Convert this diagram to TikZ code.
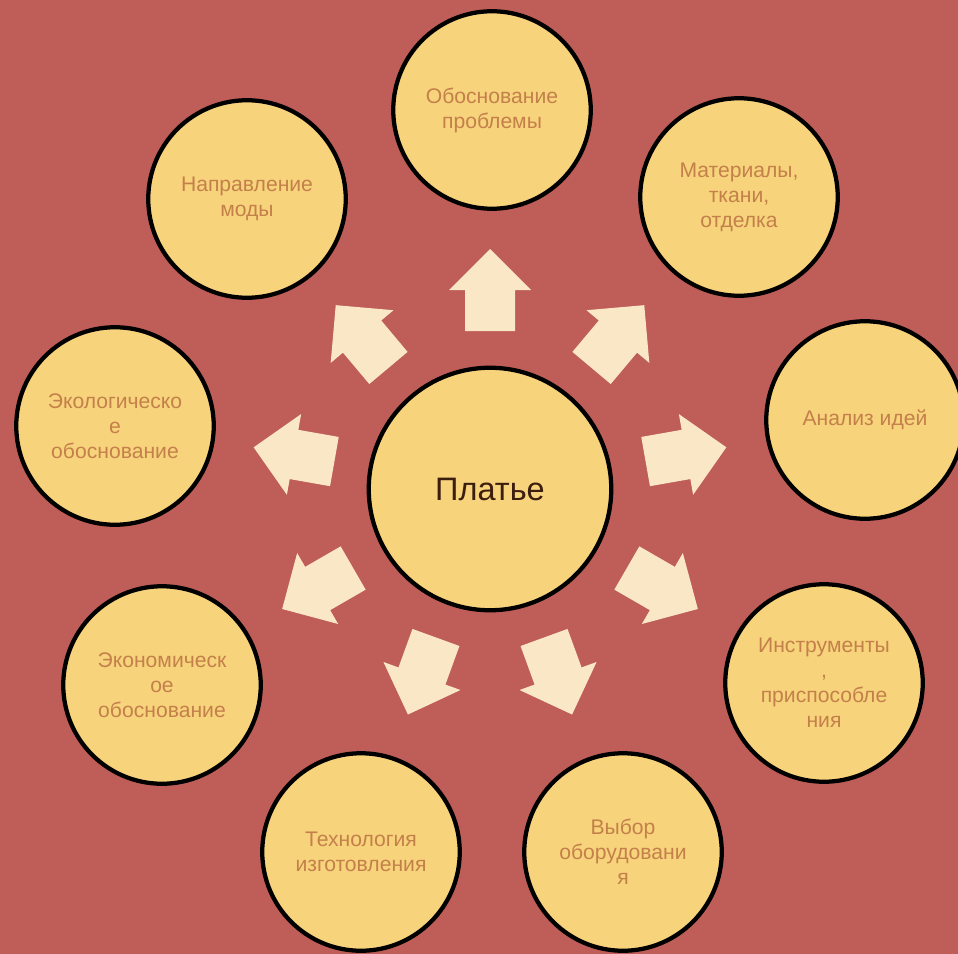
\documentclass[tikz,border=0pt]{standalone}
\usepackage{fontspec}
\setmainfont{Liberation Sans}
\usepackage{tikz}
\definecolor{cBF5D58}{RGB}{191,93,88}
\definecolor{cF7D37C}{RGB}{247,211,124}
\definecolor{cFAE7C6}{RGB}{250,231,198}
\definecolor{cC4804A}{RGB}{196,128,74}
\definecolor{c3B1E0E}{RGB}{59,30,14}
\tikzset{
  topic/.style={circle, draw=black, line width=3.4pt, fill=cF7D37C,
    minimum size=158pt, align=center, text=cC4804A,
    font=\fontsize{16.9}{20}\selectfont},
  hub/.style={topic, minimum size=194pt, text=c3B1E0E,
    font=\fontsize{26}{30}\selectfont},
  pointer/.style={fill=cFAE7C6}
}
\newcommand{\blockarrow}[1]{%
  \path[pointer,shift={(490,489)},rotate=-#1] (158,-25) -- (199,-25) --
    (199,-41) -- (240,0) -- (199,41) -- (199,25) -- (158,25) -- cycle;}

\begin{document}
\begin{tikzpicture}[y=0.80pt,x=0.80pt,yscale=-1, inner sep=0pt, outer sep=0pt]
  \useasboundingbox (0,0) rectangle (958,954);
  \clip (0,0) rectangle (958,954);
  \path[fill=cBF5D58] (0,0) rectangle (958,954);

  % arrows out of the hub
  \blockarrow{90}
  \blockarrow{50}
  \blockarrow{10}
  \blockarrow{-30}
  \blockarrow{-70}
  \blockarrow{-110}
  \blockarrow{-150}
  \blockarrow{170}
  \blockarrow{130}

  \node[hub] (dress) at (490,489) {Платье};

  \node[topic] (problem) at (492,110) {Обоснование\\проблемы};
  \node[topic] (materials) at (739,197) {Материалы,\\ткани,\\отделка};
  \node[topic] (analysis) at (865,420) {Анализ идей};
  \node[topic] (tools) at (824,683) {Инструменты\\,\\приспособле\\ния};
  \node[topic] (equipment) at (623,852) {Выбор\\оборудовани\\я};
  \node[topic] (technology) at (361,852) {Технология\\изготовления};
  \node[topic] (economy) at (162,685) {Экономическ\\ое\\обоснование};
  \node[topic] (ecology) at (115,426) {Экологическо\\е\\обоснование};
  \node[topic] (fashion) at (247,199) {Направление\\моды};

\end{tikzpicture}
\end{document}
